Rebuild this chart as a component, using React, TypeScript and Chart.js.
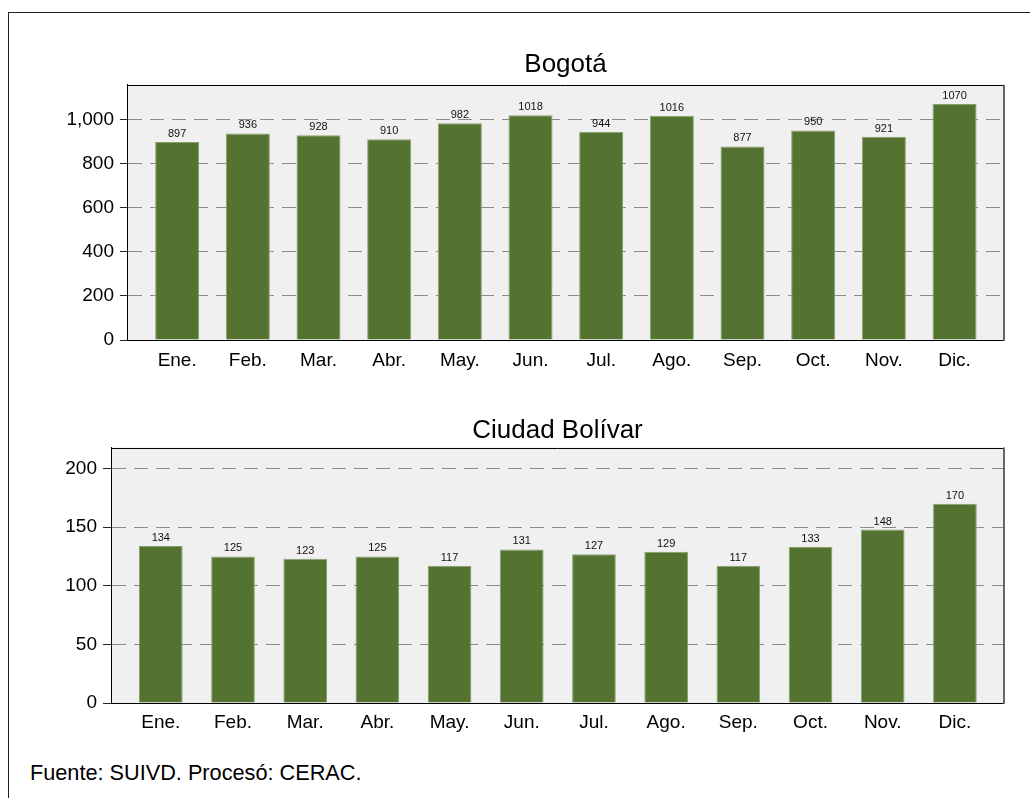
import React, { useEffect, useRef } from "react";
import { Chart, registerables } from "chart.js";

Chart.register(...registerables);

const months = ["Ene.", "Feb.", "Mar.", "Abr.", "May.", "Jun.", "Jul.", "Ago.", "Sep.", "Oct.", "Nov.", "Dic."];
const bogotaValues = [897, 936, 928, 910, 982, 1018, 944, 1016, 877, 950, 921, 1070];
const bolivarValues = [134, 125, 123, 125, 117, 131, 127, 129, 117, 133, 148, 170];
const bogotaTicks = [0, 200, 400, 600, 800, 1000];
const bolivarTicks = [0, 50, 100, 150, 200];
const bogotaTitle = "Bogotá";
const bolivarTitle = "Ciudad Bolívar";
const sourceText = "Fuente: SUIVD. Procesó: CERAC.";

const FONT = "'Liberation Sans', Arial, Helvetica, sans-serif";
const BAR = "#557330";
const BAR_EDGE = "#86a06c";

const framePlugin = {
  id: "plotFrame",
  beforeDraw(chart: any) {
    const { ctx, chartArea: a } = chart;
    ctx.save();
    ctx.fillStyle = "#f0f0f0";
    ctx.fillRect(a.left, a.top, a.right - a.left, a.bottom - a.top);
    ctx.restore();
  },
  afterDraw(chart: any) {
    const { ctx, chartArea: a } = chart;
    ctx.save();
    ctx.lineWidth = 1;
    ctx.strokeStyle = "#000";
    ctx.beginPath();
    const t = Math.round(a.top) + 0.5;
    ctx.moveTo(a.left, t);
    ctx.lineTo(a.right, t);
    ctx.stroke();
    ctx.strokeStyle = "#666";
    ctx.lineWidth = 2;
    ctx.beginPath();
    const r = Math.round(a.right);
    ctx.moveTo(r, a.top);
    ctx.lineTo(r, a.bottom + 1);
    ctx.stroke();
    ctx.restore();
  },
};

const valueLabelPlugin = {
  id: "valueLabels",
  afterDatasetsDraw(chart: any) {
    const { ctx } = chart;
    const meta = chart.getDatasetMeta(0);
    const pts = chart.data.datasets[0].data as { x: number; y: number }[];
    ctx.save();
    ctx.fillStyle = "#111";
    ctx.font = `11px ${FONT}`;
    ctx.textAlign = "center";
    ctx.textBaseline = "alphabetic";
    meta.data.forEach((bar: any, i: number) => {
      ctx.fillText(String(pts[i].y), bar.x, bar.y - 5);
    });
    ctx.restore();
  },
};

type Opts = {
  values: number[];
  ticks: number[];
  max: number;
  xMin: number;
  xMax: number;
  title: string;
  titlePadTop: number;
  titlePadBottom: number;
  yWidth: number;
  xHeight: number;
  xPad: number;
  yPad: number;
  tickLen: number;
  barPct: number;
  padRight: number;
};

function makeChart(canvas: HTMLCanvasElement, o: Opts) {
  return new Chart(canvas, {
    type: "bar",
    data: {
      datasets: [
        {
          data: months.map((_, i) => ({ x: i, y: o.values[i] })),
          backgroundColor: BAR,
          borderColor: BAR_EDGE,
          borderWidth: 1,
          barPercentage: o.barPct,
          categoryPercentage: 1,
        },
      ],
    },
    options: {
      responsive: false,
      animation: false,
      devicePixelRatio: 1,
      layout: { padding: { left: 0, right: o.padRight, top: 0, bottom: 0 } },
      plugins: {
        legend: { display: false },
        tooltip: { enabled: false },
        title: {
          display: true,
          text: o.title,
          fullSize: false,
          color: "#000",
          font: { family: FONT, size: 26, weight: "normal" },
          padding: { top: o.titlePadTop, bottom: o.titlePadBottom },
        },
      },
      scales: {
        x: {
          type: "linear",
          min: o.xMin,
          max: o.xMax,
          offset: false,
          afterBuildTicks: (s: any) => {
            s.ticks = months.map((_, i) => ({ value: i }));
          },
          grid: { display: false, drawTicks: false },
          border: { display: true, color: "#000", width: 1 },
          ticks: {
            color: "#000",
            font: { family: FONT, size: 19 },
            padding: o.xPad,
            maxRotation: 0,
            autoSkip: false,
            callback: (v: any) => months[Math.round(Number(v))] ?? "",
          },
          afterFit: (s: any) => {
            s.height = o.xHeight;
          },
        },
        y: {
          min: 0,
          max: o.max,
          afterBuildTicks: (s: any) => {
            s.ticks = o.ticks.map((v) => ({ value: v }));
          },
          afterFit: (s: any) => {
            s.width = o.yWidth;
          },
          grid: {
            color: (c: any) => (c.tick && c.tick.value === 0 ? "rgba(0,0,0,0)" : "#8c8c8c"),
            lineWidth: 1,
            tickColor: "#222",
            tickLength: o.tickLen,
            tickBorderDash: [],
          },
          border: { display: true, color: "#000", width: 1, dash: [14, 8] },
          ticks: {
            color: "#000",
            font: { family: FONT, size: 19 },
            padding: o.yPad,
            callback: (v: any) => Number(v).toLocaleString("en-US"),
          },
        },
      },
    } as any,
    plugins: [framePlugin, valueLabelPlugin],
  });
}

export default function App() {
  const topRef = useRef<HTMLCanvasElement>(null);
  const botRef = useRef<HTMLCanvasElement>(null);

  useEffect(() => {
    const c1 = makeChart(topRef.current!, {
      values: bogotaValues,
      ticks: bogotaTicks,
      max: 1157,
      xMin: -0.71,
      xMax: 11.7,
      title: bogotaTitle,
      titlePadTop: 49,
      titlePadBottom: 4.5,
      yWidth: 127,
      xHeight: 50,
      xPad: 9.6,
      yPad: 6,
      tickLen: 7,
      barPct: 0.623,
      padRight: 26,
    });
    const c2 = makeChart(botRef.current!, {
      values: bolivarValues,
      ticks: bolivarTicks,
      max: 218,
      xMin: -0.69,
      xMax: 11.68,
      title: bolivarTitle,
      titlePadTop: 25,
      titlePadBottom: 1.3,
      yWidth: 111,
      xHeight: 57,
      xPad: 8,
      yPad: 6,
      tickLen: 8,
      barPct: 0.605,
      padRight: 26,
    });
    return () => {
      c1.destroy();
      c2.destroy();
    };
  }, []);

  return (
    <div
      style={{
        position: "fixed",
        left: 0,
        top: 0,
        width: 1030,
        height: 798,
        overflow: "hidden",
        background: "#fff",
        fontFamily: FONT,
      }}
    >
      <div
        style={{
          position: "absolute",
          left: 8,
          top: 12,
          width: 1200,
          height: 1000,
          border: "1px solid #222",
          boxSizing: "border-box",
        }}
      />
      <canvas
        ref={topRef}
        width={1030}
        height={390}
        style={{ position: "absolute", left: 0, top: 0, width: 1030, height: 390 }}
      />
      <canvas
        ref={botRef}
        width={1030}
        height={370}
        style={{ position: "absolute", left: 0, top: 390, width: 1030, height: 370 }}
      />
      <div
        style={{
          position: "absolute",
          left: 30,
          top: 762,
          fontSize: 21.7,
          lineHeight: "21px",
          color: "#000",
          whiteSpace: "nowrap",
        }}
      >
        {sourceText}
      </div>
    </div>
  );
}
